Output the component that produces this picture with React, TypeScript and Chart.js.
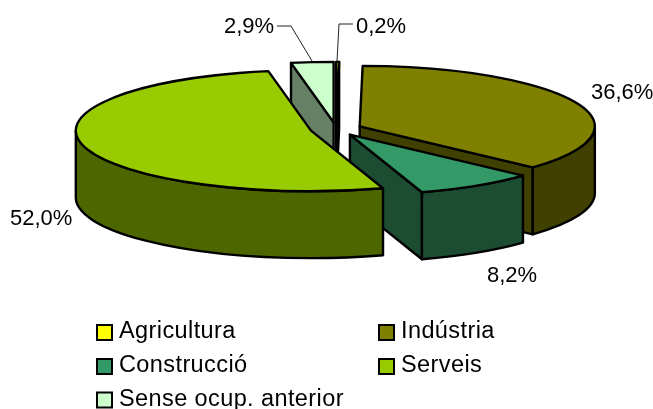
import React, { useEffect, useRef } from "react";
import { Chart, registerables } from "chart.js";

Chart.register(...registerables);

const categories = ["Agricultura", "Indústria", "Construcció", "Serveis", "Sense ocup. anterior"];
const shares = [0.2, 36.6, 8.2, 52.0, 2.9];
const topColors = ["#FFFF00", "#808000", "#339966", "#99CC00", "#CCFFCC"];
const sideColors = ["#808000", "#404000", "#1C4D33", "#4D6600", "#668066"];
const cutColors = ["#000000", "#404000", "#1C4D33", "#4D6600", "#668066"];

// back-to-front paint order of the slices
const paintOrder = [1, 4, 0, 2, 3];

const FONT = '"Liberation Sans", Arial, sans-serif';
const STRETCH_X = 237 / 129;
const SQUASH_Y = 61 / 129;
const EXPLODE = 26 / 129;
const DEPTH = 67;

const labelAnchors = [
  { x: 356, y: 33 },
  { x: 591, y: 99 },
  { x: 487, y: 282 },
  { x: 10, y: 225 },
  { x: 224, y: 33 },
];

const leaders = [
  [[353, 24], [339, 24], [337, 61]],
  [[277, 26], [291, 26], [312, 61]],
];

const legendSlots = [
  { x: 97, y: 325 },
  { x: 379, y: 325 },
  { x: 97, y: 359 },
  { x: 379, y: 359 },
  { x: 97, y: 392.5 },
];

const pie3d = {
  id: "pie3d",
  beforeDatasetsDraw(chart: any) {
    const ctx = chart.ctx as CanvasRenderingContext2D;
    const arcs = chart.getDatasetMeta(0).data;
    ctx.save();
    ctx.lineWidth = 2.4;
    ctx.lineJoin = "round";
    ctx.strokeStyle = "#000";
    const paint = (fill: string) => {
      ctx.fillStyle = fill;
      ctx.fill();
      ctx.stroke();
    };
    for (const i of paintOrder) {
      const el = arcs[i];
      const a = el.startAngle;
      const b = el.endAngle;
      const mid = (a + b) / 2;
      const rx = el.outerRadius * STRETCH_X;
      const ry = el.outerRadius * SQUASH_Y;
      const d = el.outerRadius * EXPLODE;
      const cx = el.x + Math.cos(mid) * d;
      const cy = el.y + Math.sin(mid) * d * (ry / rx);
      const rim = (t: number) => [cx + Math.cos(t) * rx, cy + Math.sin(t) * ry];
      const cut = (t: number) => {
        const [px, py] = rim(t);
        ctx.beginPath();
        ctx.moveTo(cx, cy);
        ctx.lineTo(px, py);
        ctx.lineTo(px, py + DEPTH);
        ctx.lineTo(cx, cy + DEPTH);
        ctx.closePath();
        paint(cutColors[i]);
      };
      if (Math.cos(a) < -1e-6) cut(a);
      if (Math.cos(b) > 1e-6) cut(b);
      const s = Math.max(a, 0);
      const e = Math.min(b, Math.PI);
      if (s < e) {
        ctx.beginPath();
        ctx.ellipse(cx, cy, rx, ry, 0, s, e);
        ctx.ellipse(cx, cy + DEPTH, rx, ry, 0, e, s, true);
        ctx.closePath();
        paint(sideColors[i]);
      }
      ctx.beginPath();
      ctx.moveTo(cx, cy);
      ctx.ellipse(cx, cy, rx, ry, 0, a, b);
      ctx.closePath();
      paint(topColors[i]);
    }
    ctx.restore();
    return false;
  },
  afterDraw(chart: any) {
    const ctx = chart.ctx as CanvasRenderingContext2D;
    ctx.save();
    ctx.strokeStyle = "#222";
    ctx.lineWidth = 1;
    for (const line of leaders) {
      ctx.beginPath();
      line.forEach(([x, y], k) => (k ? ctx.lineTo(x, y) : ctx.moveTo(x, y)));
      ctx.stroke();
    }
    ctx.fillStyle = "#000";
    ctx.textBaseline = "alphabetic";
    ctx.textAlign = "left";
    ctx.font = `22px ${FONT}`;
    shares.forEach((v, i) => {
      const p = labelAnchors[i];
      ctx.fillText(`${v.toFixed(1).replace(".", ",")}%`, p.x, p.y);
    });
    ctx.font = `23.5px ${FONT}`;
    (ctx as any).letterSpacing = "0.4px";
    categories.forEach((name, i) => {
      const p = legendSlots[i];
      ctx.fillStyle = topColors[i];
      ctx.strokeStyle = "#000";
      ctx.lineWidth = 2;
      ctx.fillRect(p.x, p.y, 15, 15);
      ctx.strokeRect(p.x, p.y, 15, 15);
      ctx.fillStyle = "#000";
      ctx.fillText(name, p.x + 22, p.y + 13);
    });
    ctx.restore();
  },
};

export default function App() {
  const ref = useRef<HTMLCanvasElement>(null);
  useEffect(() => {
    const chart = new Chart(ref.current as HTMLCanvasElement, {
      type: "pie",
      data: {
        labels: categories,
        datasets: [
          {
            data: shares,
            backgroundColor: topColors,
            borderColor: "#000",
            borderWidth: 2,
          },
        ],
      },
      options: {
        responsive: false,
        animation: false,
        layout: { padding: { left: 19, right: 0, top: 0, bottom: 151 } },
        plugins: { legend: { display: false }, tooltip: { enabled: false } },
      },
      plugins: [pie3d as any],
    });
    return () => chart.destroy();
  }, []);
  return (
    <canvas
      ref={ref}
      width={653}
      height={409}
      style={{ position: "absolute", left: 0, top: 0, display: "block" }}
    />
  );
}
